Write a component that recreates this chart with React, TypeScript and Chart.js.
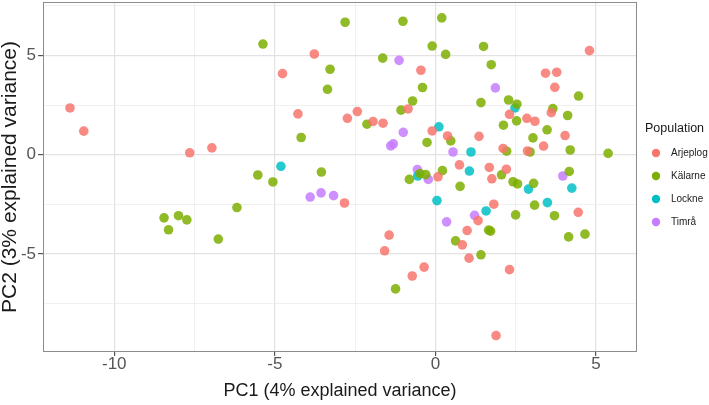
import React, { useEffect, useRef } from "react";
import { Chart, registerables } from "chart.js";
Chart.register(...registerables);

const populations = ["Arjeplog", "Kälarne", "Lockne", "Timrå"];
const pointColors = [
  "rgba(248,118,109,0.85)",
  "rgba(124,174,0,0.85)",
  "rgba(0,191,196,0.85)",
  "rgba(199,124,255,0.85)",
];
const legendColors = ["#F8766D", "#7CAE00", "#00BFC4", "#C77CFF"];

const arjeplogPC1 = [-11.38, -10.95, -7.65, -6.96, -3.77, -4.76, -0.45, -0.85, -4.28, -2.74, -2.43, -1.94, -1.63, -2.83, -1.44, -1.58, -0.72, -0.35, 1.33, 1.82, 0.99, 0.84, 1.05, 2.31, 1.89, 4.45, 4.8, 3.43, 3.78, 3.72, 2.31, 3.61, 2.85, 3.1, 4.04, 3.37, 2.87, 2.11, 1.36, -0.1, 0.38, 0.75, 1.68, 1.76, 2.21, 0.08];
const arjeplogPC2 = [2.36, 1.19, 0.1, 0.35, 5.08, 4.09, 4.26, 2.31, 2.06, 1.84, 2.18, 1.68, 1.59, -2.43, -4.05, -4.84, -6.11, -5.66, -3.32, -2.49, -3.82, -4.54, -5.21, -5.79, -9.11, -2.9, 5.25, 4.11, 4.16, 3.4, 2.04, 2.12, 1.84, 1.69, 0.97, 0.44, 0.19, 0.32, 0.93, 1.2, 0.95, -0.51, -0.64, -1.21, -0.73, -1.11];

const kalarnePC1 = [-8.45, -8.31, -8.0, -7.74, -6.76, -6.18, -5.53, -5.37, -2.81, -1.01, -3.28, -3.36, -1.64, -0.4, -0.71, -1.07, -2.13, -4.18, -5.06, -3.55, -0.81, -1.24, 0.77, 1.66, 1.72, 0.63, 1.42, 2.5, 3.09, 3.71, 4.15, 4.66, 0.2, -0.1, 0.32, 1.5, 1.74, 4.46, 1.42, 2.28, 2.54, 3.66, 4.12, 2.12, 2.53, 3.48, 3.04, 4.2, 5.38, 2.95, 2.22, 0.48, -0.26, 2.06, 2.42, 2.56, 3.06, 0.22, -0.48, -0.3, 4.17];
const kalarnePC2 = [-3.18, -3.78, -3.07, -3.28, -4.25, -2.66, -1.02, 5.58, 6.68, 6.73, 4.31, 3.3, 4.87, 3.39, 2.71, 2.25, 1.54, 0.87, -1.37, -0.87, -1.24, -6.76, -1.59, -3.8, -3.85, -4.34, -5.04, -3.03, -2.54, -3.07, -4.14, -4.0, 6.9, 5.48, 5.06, 5.46, 4.54, 2.96, 2.63, 2.76, 2.55, 2.33, 1.98, 1.49, 1.71, 1.26, 0.85, 0.24, 0.07, 0.14, 0.18, 0.7, 0.62, -1.01, -1.36, -1.47, -1.44, -0.8, -0.95, -1.0, -0.84];

const lockneePC1 = [-4.81, -0.55, 0.05, 1.58, 3.49, 2.9, 4.25, 2.48, 1.11, 0.11, 1.06];
const lockneePC2 = [-0.58, -1.07, -2.31, -2.83, -2.41, -1.73, -1.68, 2.36, 0.14, 1.41, -0.82];

const timraPC1 = [-1.13, -1.0, -1.39, -1.31, -3.9, -3.56, -3.17, 1.87, 0.55, -0.56, -0.22, 0.35, 1.22, 3.97];
const timraPC2 = [4.76, 1.13, 0.45, 0.55, -2.13, -1.92, -2.06, 3.37, 0.14, -0.75, -1.24, -3.38, -3.05, -1.07];

const seriesPC1 = [arjeplogPC1, kalarnePC1, lockneePC1, timraPC1];
const seriesPC2 = [arjeplogPC2, kalarnePC2, lockneePC2, timraPC2];

const xTicks = [-10, -7.5, -5, -2.5, 0, 2.5, 5];
const yTicks = [-7.5, -5, -2.5, 0, 2.5, 5, 7.5];
const xLimits = [-12.22, 6.28];
const yLimits = [-9.94, 7.7];

const xTitle = "PC1 (4% explained variance)";
const yTitle = "PC2 (3% explained variance)";
const legendTitle = "Population";

const FONT = "'Liberation Sans', Arial, Helvetica, sans-serif";

const isMajor = (v: number) => Math.abs(v % 5) < 1e-9;

const panelPlugin = {
  id: "panelBorder",
  afterDatasetsDraw(chart: any) {
    const { ctx, chartArea } = chart;
    ctx.save();
    ctx.strokeStyle = "#8c8c8c";
    ctx.lineWidth = 1;
    ctx.strokeRect(chartArea.left + 0.5, chartArea.top + 0.5, chartArea.right - chartArea.left - 1, chartArea.bottom - chartArea.top - 1);
    ctx.restore();
  },
};

const legendPlugin = {
  id: "populationLegend",
  afterDraw(chart: any) {
    const { ctx, chartArea } = chart;
    const cy = (chartArea.top + chartArea.bottom) / 2;
    const x0 = chartArea.right;
    ctx.save();
    ctx.textBaseline = "middle";
    ctx.textAlign = "left";
    ctx.fillStyle = "#1a1a1a";
    ctx.font = `12.5px ${FONT}`;
    ctx.fillText(legendTitle, x0 + 8, cy - 48);
    populations.forEach((p, i) => {
      const y = cy - 24 + i * 23;
      ctx.beginPath();
      ctx.arc(x0 + 19, y, 4.2, 0, Math.PI * 2);
      ctx.fillStyle = legendColors[i];
      ctx.fill();
      ctx.fillStyle = "#1a1a1a";
      ctx.font = `10px ${FONT}`;
      ctx.fillText(p, x0 + 34, y);
    });
    ctx.restore();
  },
};

export default function App() {
  const canvasRef = useRef<HTMLCanvasElement | null>(null);

  useEffect(() => {
    document.body.style.margin = "0";
    const canvas = canvasRef.current;
    if (!canvas) return;
    const datasets = populations.map((p, i) => ({
      label: p,
      data: seriesPC1[i].map((x, j) => ({ x, y: seriesPC2[i][j] })),
      backgroundColor: pointColors[i],
      borderWidth: 0,
      pointRadius: 4.8,
      pointHoverRadius: 4.8,
    }));
    const gridColor = (c: any) => (c.tick && isMajor(c.tick.value) ? "#e2e2e2" : "#ececec");
    const gridWidth = (c: any) => (c.tick && isMajor(c.tick.value) ? 1.2 : 0.8);
    const tickColor = (c: any) => (c.tick && isMajor(c.tick.value) ? "#555555" : "rgba(0,0,0,0)");
    const chart = new Chart(canvas, {
      type: "scatter",
      data: { datasets },
      plugins: [panelPlugin, legendPlugin],
      options: {
        responsive: false,
        animation: false,
        events: [],
        layout: { autoPadding: false, padding: { left: 0, top: 2, right: 72, bottom: 0 } },
        plugins: { legend: { display: false }, tooltip: { enabled: false } },
        scales: {
          x: {
            type: "linear",
            min: xLimits[0],
            max: xLimits[1],
            afterBuildTicks: (scale: any) => {
              scale.ticks = xTicks.map((v) => ({ value: v }));
            },
            afterFit: (scale: any) => {
              scale.height = 53;
              scale.paddingLeft = 0;
              scale.paddingRight = 0;
            },
            border: { display: false },
            grid: { color: gridColor, lineWidth: gridWidth, tickColor, tickLength: 4, tickWidth: 1.2 },
            ticks: {
              autoSkip: false,
              maxRotation: 0,
              padding: 0,
              color: "#555555",
              font: { family: FONT, size: 17, lineHeight: 1 },
              callback: (v: any) => (isMajor(Number(v)) ? String(v) : ""),
            },
            title: {
              display: true,
              text: xTitle,
              color: "#1a1a1a",
              font: { family: FONT, size: 18, lineHeight: 1.2 },
              padding: { top: 0, bottom: 3 },
            },
          },
          y: {
            type: "linear",
            min: yLimits[0],
            max: yLimits[1],
            afterBuildTicks: (scale: any) => {
              scale.ticks = yTicks.map((v) => ({ value: v }));
            },
            afterFit: (scale: any) => {
              scale.width = 43;
              scale.paddingTop = 0;
              scale.paddingBottom = 0;
            },
            border: { display: false },
            grid: { color: gridColor, lineWidth: gridWidth, tickColor, tickLength: 5, tickWidth: 1.2 },
            ticks: {
              autoSkip: false,
              padding: 2,
              color: "#555555",
              font: { family: FONT, size: 17, lineHeight: 1 },
              callback: (v: any) => (isMajor(Number(v)) ? String(v) : ""),
            },
            title: {
              display: true,
              text: yTitle,
              color: "#1a1a1a",
              font: { family: FONT, size: 21, lineHeight: 1 },
              padding: { top: 0, bottom: 0 },
            },
          },
        },
      } as any,
    });
    return () => chart.destroy();
  }, []);

  return (
    <div style={{ width: 709, height: 405, position: "relative" }}>
      <canvas ref={canvasRef} width={709} height={405} style={{ display: "block" }} />
    </div>
  );
}
